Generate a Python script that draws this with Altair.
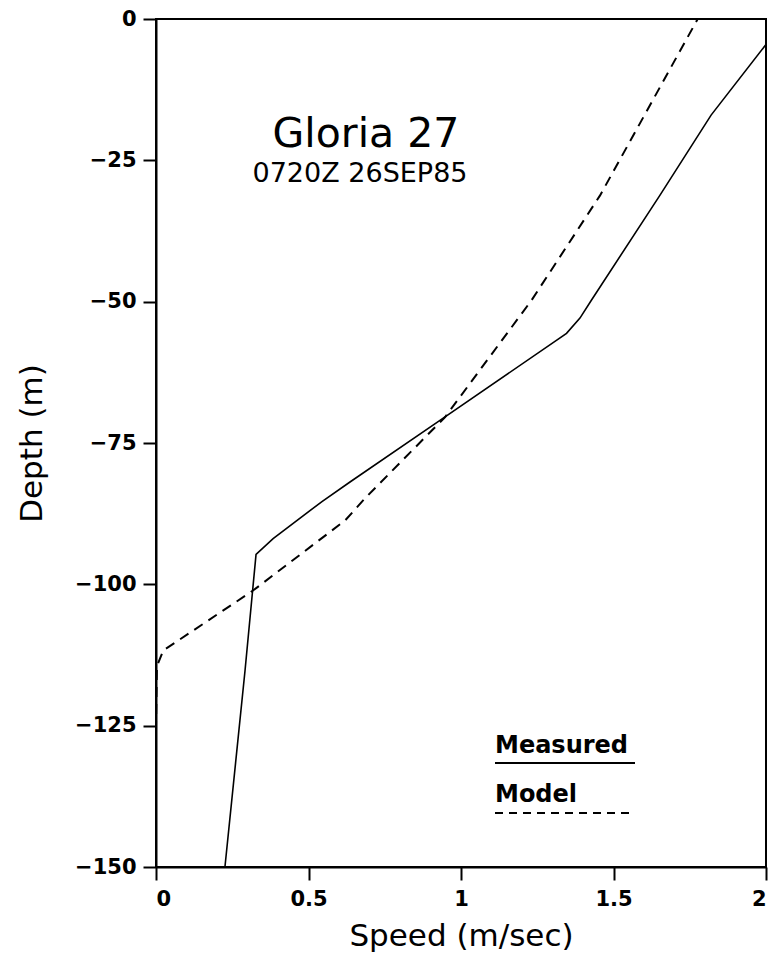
import altair as alt
import pandas as pd

measured_speed = [0.226, 0.292, 0.328, 0.384, 0.543, 0.636, 0.931, 1.314, 1.346, 1.39, 1.428, 1.652, 1.82, 2.0]
measured_depth = [-150, -115.2, -94.7, -91.9, -85.4, -81.9, -71.0, -56.8, -55.6, -52.9, -49.7, -31.2, -17.0, -4.5]

model_speed = [0.0, 0.0, 0.003, 0.024, 0.318, 0.62, 0.685, 0.948, 1.232, 1.456, 1.776]
model_depth = [-150, -125, -114.5, -111.7, -101.1, -88.7, -84.8, -70.4, -49.7, -31.2, 0.0]

x_ticks = [0, 0.5, 1, 1.5, 2]
y_ticks = [0, -25, -50, -75, -100, -125, -150]

title_text = "Gloria 27"
subtitle_text = "0720Z 26SEP85"
legend_labels = ["Measured", "Model"]

FONT = "DejaVu Sans"

meas = pd.DataFrame({"speed": measured_speed, "depth": measured_depth, "idx": range(len(measured_speed))})
mod = pd.DataFrame({"speed": model_speed, "depth": model_depth, "idx": range(len(model_speed))})

x_enc = alt.X("speed:Q", scale=alt.Scale(domain=[0, 2], nice=False, zero=False),
              axis=alt.Axis(values=x_ticks, title="Speed (m/sec)", labelExpr="toString(datum.value)",
                            grid=False, tickSize=13, labelPadding=8, titlePadding=12))
y_enc = alt.Y("depth:Q", scale=alt.Scale(domain=[-150, 0], nice=False, zero=False),
              axis=alt.Axis(values=y_ticks, title="Depth (m)", format="d",
                            grid=False, tickSize=13, labelPadding=7, titlePadding=26))

measured_line = alt.Chart(meas).mark_line(color="black", strokeWidth=1.6, clip=True).encode(
    x=x_enc, y=y_enc, order="idx:Q")

model_line = alt.Chart(mod).mark_line(color="black", strokeWidth=2, strokeDash=[10, 7], clip=False).encode(
    x="speed:Q", y="depth:Q", order="idx:Q")

title_mark = alt.Chart(pd.DataFrame({"t": [title_text]})).mark_text(
    font=FONT, fontSize=41, align="center", baseline="alphabetic", color="black").encode(
    text="t:N", x=alt.value(210), y=alt.value(128))

subtitle_mark = alt.Chart(pd.DataFrame({"t": [subtitle_text]})).mark_text(
    font=FONT, fontSize=27, align="center", baseline="alphabetic", color="black").encode(
    text="t:N", x=alt.value(204), y=alt.value(163))

leg1 = alt.Chart(pd.DataFrame({"t": [legend_labels[0]]})).mark_text(
    font=FONT, fontSize=24, fontWeight="bold", align="left", baseline="alphabetic", color="black").encode(
    text="t:N", x=alt.value(339), y=alt.value(734))
leg2 = alt.Chart(pd.DataFrame({"t": [legend_labels[1]]})).mark_text(
    font=FONT, fontSize=24, fontWeight="bold", align="left", baseline="alphabetic", color="black").encode(
    text="t:N", x=alt.value(339), y=alt.value(783))

leg_solid = alt.Chart(pd.DataFrame({"a": [0]})).mark_rule(color="black", strokeWidth=2).encode(
    x=alt.value(339), x2=alt.value(479), y=alt.value(744))
leg_dash = alt.Chart(pd.DataFrame({"a": [0]})).mark_rule(color="black", strokeWidth=2, strokeDash=[8, 6]).encode(
    x=alt.value(339), x2=alt.value(479), y=alt.value(794))

chart = alt.layer(measured_line, model_line, title_mark, subtitle_mark, leg1, leg2, leg_solid, leg_dash).properties(
    width=610, height=848,
    background="white",
    autosize=alt.AutoSizeParams(type="none"),
    padding={"left": 156, "top": 19, "right": 10, "bottom": 100},
).configure_view(
    stroke="black", strokeWidth=2
).configure_axis(
    domainColor="black", domainWidth=2, tickColor="black", tickWidth=2,
    labelFont=FONT, labelFontSize=21, labelFontWeight="bold", labelColor="black",
    titleFont=FONT, titleFontSize=31, titleFontWeight="normal", titleColor="black",
)

chart.save("out.html", embed_options={"renderer": "svg", "actions": False})
